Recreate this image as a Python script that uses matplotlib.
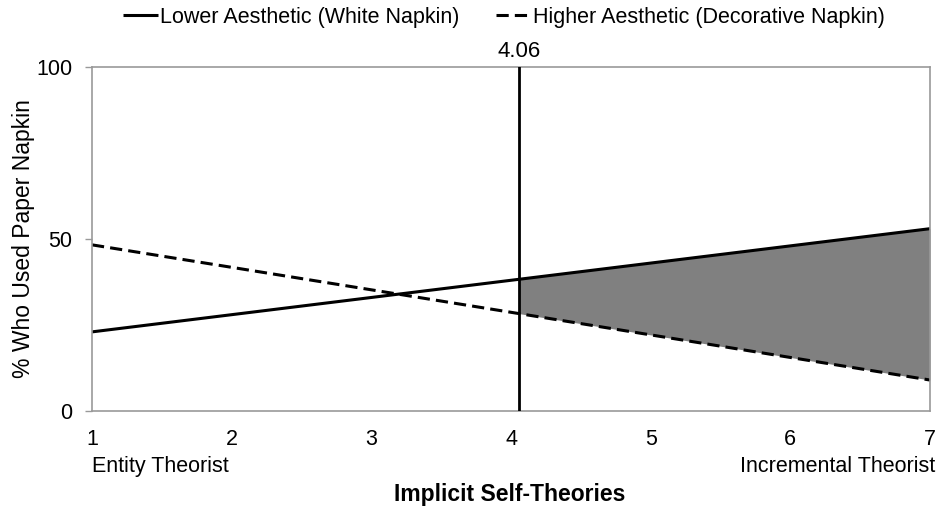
import matplotlib.pyplot as plt
import numpy as np

plt.rcParams['font.family'] = ['Liberation Sans', 'DejaVu Sans']

x_vals = [1, 4.06, 7]
lower_aesthetic = [23, 38.3, 53]
higher_aesthetic = [48.3, 28.3, 9]
cutoff = 4.06
x_ticks = [1, 2, 3, 4, 5, 6, 7]
y_ticks = [0, 50, 100]


def main():
    fig = plt.figure(figsize=(9.4, 5.09), dpi=100)
    ax = fig.add_axes([92/940, 1-411/509, 838/940, 344/509])

    ax.plot(x_vals, lower_aesthetic, color='black', lw=2.2, solid_capstyle='butt',
            label='Lower Aesthetic (White Napkin)')
    ax.plot(x_vals, higher_aesthetic, color='black', lw=2.2, ls=(0, (4, 2)),
            label='Higher Aesthetic (Decorative Napkin)')

    xs = np.array(x_vals)
    region = xs >= cutoff
    ax.fill_between(xs[region], np.array(higher_aesthetic)[region],
                    np.array(lower_aesthetic)[region], color='#808080', lw=0, zorder=1)

    ax.axvline(cutoff, color='black', lw=2, zorder=3)
    ax.text(cutoff, 101.5, '4.06', ha='center', va='bottom', fontsize=16)

    ax.set_xlim(1, 7)
    ax.set_ylim(0, 100)
    ax.set_xticks(x_ticks)
    ax.set_yticks(y_ticks)
    ax.tick_params(axis='x', length=0, pad=13, labelsize=15.5)
    ax.tick_params(axis='y', length=5, color='#999999', width=1, labelsize=15.5, pad=9)
    for s in ax.spines.values():
        s.set_color('#999999')
        s.set_linewidth(1.2)

    ax.set_ylabel('% Who Used Paper Napkin', fontsize=16.5, labelpad=1)
    fig.text(0.542, 1-494/509, 'Implicit Self-Theories', ha='center', va='center',
             fontsize=16.5, fontweight='bold')
    ax.text(0, -0.16, 'Entity Theorist', transform=ax.transAxes, ha='left', va='center', fontsize=15.5)
    ax.text(1.006, -0.16, 'Incremental Theorist', transform=ax.transAxes, ha='right', va='center', fontsize=15.5)

    fig.legend(loc='center', bbox_to_anchor=(504/940, 1-17/509), ncol=2, frameon=False,
               fontsize=15.5, handlelength=1.6, handletextpad=0.1, columnspacing=1.7)

    fig.savefig('out.png', dpi=100)


main()
